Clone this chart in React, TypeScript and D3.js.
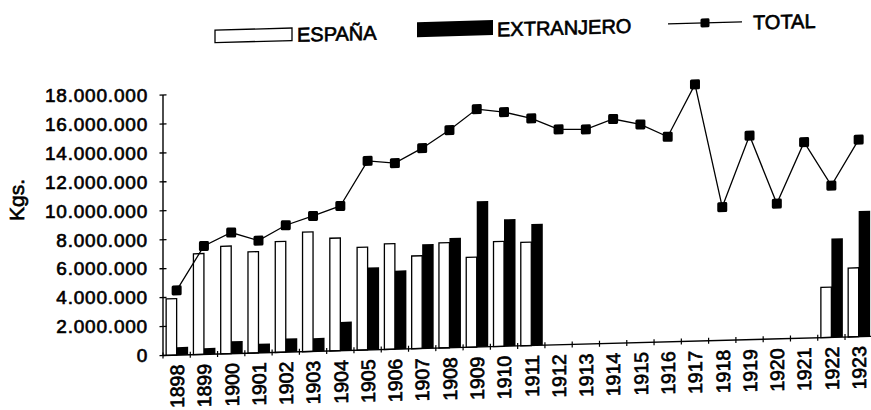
import React from "react";
import * as d3 from "d3";

const years = ["1898","1899","1900","1901","1902","1903","1904","1905","1906","1907","1908","1909","1910","1911","1912","1913","1914","1915","1916","1917","1918","1919","1920","1921","1922","1923"];
const espana: (number | null)[] = [3900000, 6970000, 7440000, 7000000, 7660000, 8260000, 7790000, 7110000, 7300000, 6410000, 7260000, 6210000, 7250000, 7150000, null, null, null, null, null, null, null, null, null, null, 3480000, 4760000];
const extranjero: (number | null)[] = [550000, 430000, 860000, 630000, 940000, 920000, 1990000, 5690000, 5430000, 7200000, 7580000, 10070000, 8770000, 8400000, null, null, null, null, null, null, null, null, null, null, 6830000, 8680000];
const total: number[] = [4470000, 7490000, 8370000, 7760000, 8770000, 9360000, 10000000, 13070000, 12860000, 13840000, 15040000, 16440000, 16180000, 15700000, 14880000, 14830000, 15500000, 15070000, 14170000, 17740000, 9210000, 14100000, 9350000, 13540000, 10490000, 13620000];
const yTicks = [0, 2000000, 4000000, 6000000, 8000000, 10000000, 12000000, 14000000, 16000000, 18000000];
const seriesNames = ["ESPAÑA", "EXTRANJERO", "TOTAL"];

const W = 871, H = 410;
const x0 = 163, x1 = 872.3, yBase = 355.5, yTop = 95;
const FONT = "'Liberation Sans', Arial, Helvetica, sans-serif";

const locale = d3.formatLocale({ decimal: ",", thousands: ".", grouping: [3], currency: ["", ""] });
const fmt = locale.format(",");

export default function App() {
  const x = d3.scaleBand<string>().domain(years).range([x0, x1]).paddingInner(0).paddingOuter(0);
  const y = d3.scaleLinear().domain([0, 18000000]).range([yBase, yTop]);
  const bw = x.bandwidth();
  const cx = (yr: string) => (x(yr) as number) + bw / 2;
  const line = d3.line<number>().x((_, i) => cx(years[i])).y((d) => y(d));
  const skew = `translate(${x0},0) skewY(-1.55) translate(${-x0},0)`;
  const txt = { fontFamily: FONT, fill: "#000", stroke: "#000", strokeWidth: 0.65 } as const;

  return (
    <svg width={W} height={H} style={{ position: "fixed", left: 0, top: 0, background: "#fff" }}>
      <rect width={W} height={H} fill="#fff" />
      {/* Y tick labels */}
      {yTicks.map((t) => (
        <text key={t} x={148} y={y(t) + 6.8} textAnchor="end" fontSize={19} letterSpacing={0.8} {...txt}>
          {fmt(t)}
        </text>
      ))}
      <text transform={`translate(23.5,200) rotate(-90)`} textAnchor="middle" fontSize={21} {...txt}>Kgs.</text>

      <g transform={skew}>
        {/* Legend */}
        <rect x={215} y={31.5} width={77} height={12.5} fill="#fff" stroke="#000" strokeWidth={1.3} />
        <text x={297} y={45.5} fontSize={20} {...txt}>{seriesNames[0]}</text>
        <rect x={417} y={29} width={76} height={15} fill="#000" />
        <text x={497} y={45.5} fontSize={20} {...txt}>{seriesNames[1]}</text>
        <line x1={668} x2={742} y1={37.5} y2={37.5} stroke="#000" strokeWidth={1.4} />
        <rect x={700.5} y={33} width={9} height={9} rx={1.5} fill="#000" />
        <text x={753} y={45.5} fontSize={20} {...txt}>{seriesNames[2]}</text>

        {/* Bars */}
        {years.map((yr, i) => {
          const c = cx(yr);
          const e = espana[i];
          const x2 = extranjero[i];
          return (
            <g key={yr}>
              {e != null && (
                <rect x={c - 10.5} y={y(e)} width={10.5} height={yBase - y(e)} fill="#fff" stroke="#000" strokeWidth={1.3} />
              )}
              {x2 != null && (
                <rect x={c} y={y(x2)} width={11.5} height={yBase - y(x2)} fill="#000" />
              )}
            </g>
          );
        })}

        {/* Y axis */}
        <line x1={x0} x2={x0} y1={yTop} y2={yBase} stroke="#000" strokeWidth={1.4} />
        {yTicks.map((t) => (
          <line key={t} x1={x0 - 3.5} x2={x0 + 3.5} y1={y(t)} y2={y(t)} stroke="#000" strokeWidth={1.3} />
        ))}

        {/* X axis */}
        <line x1={x0} x2={x1} y1={yBase} y2={yBase} stroke="#000" strokeWidth={1.4} />
        {d3.range(years.length + 1).map((k) => {
          const xx = k < years.length ? (x(years[k]) as number) : x1;
          return <line key={k} x1={xx} x2={xx} y1={yBase - 3} y2={yBase + 3} stroke="#000" strokeWidth={1.2} />;
        })}
        {years.map((yr) => (
          <text key={yr} transform={`translate(${cx(yr) + 7.3},365) rotate(-90)`} textAnchor="end" fontSize={19.5} {...txt}>
            {yr}
          </text>
        ))}

        {/* Total line */}
        <path d={line(total) || ""} fill="none" stroke="#000" strokeWidth={1.3} />
        {total.map((v, i) => (
          <rect key={i} x={cx(years[i]) - 5} y={y(v) - 5} width={10} height={10} rx={1.5} fill="#000" />
        ))}
      </g>
    </svg>
  );
}
